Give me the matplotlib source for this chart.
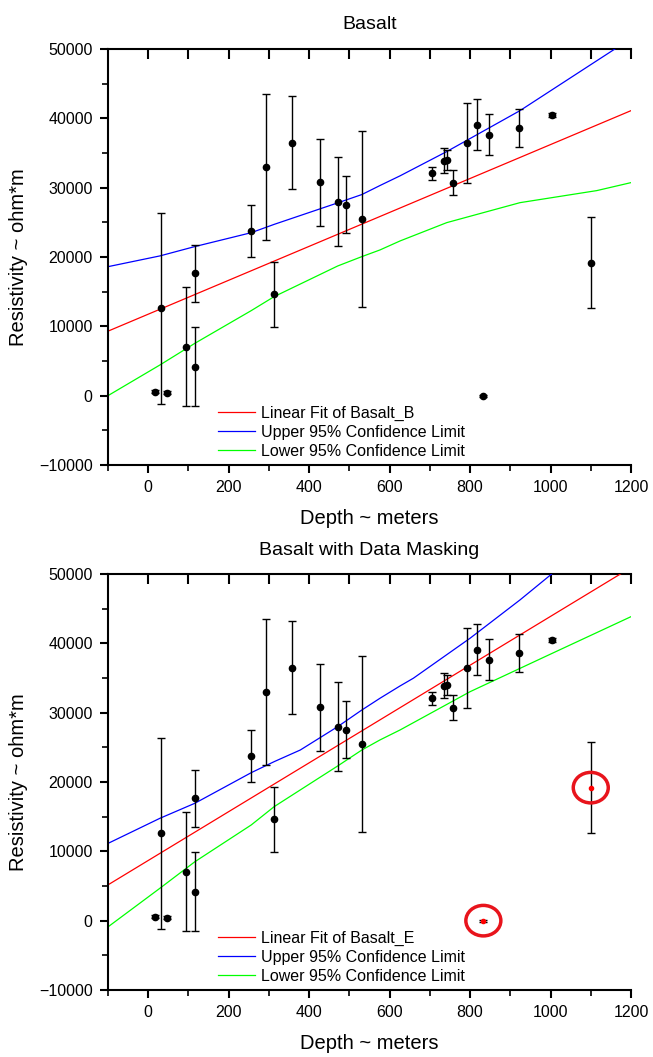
import numpy as np
import matplotlib.pyplot as plt
from matplotlib.patches import Ellipse
from matplotlib.ticker import MultipleLocator

plt.rcParams['font.family'] = ['Liberation Sans', 'DejaVu Sans']

# measured resistivity with error bars
depth = [17, 31, 46, 93, 115, 117, 256, 293, 313, 357, 428, 471, 491, 531,
         706, 736, 743, 758, 793, 816, 833, 847, 922, 1004, 1100]
resistivity = [570, 12600, 430, 7060, 17650, 4180, 23750, 32980, 14620, 36490,
               30780, 27980, 27550, 25440, 32070, 33890, 33990, 30720, 36490,
               39080, 0, 37640, 38570, 40480, 19180]
res_err = [250, 13800, 250, 8560, 4100, 5650, 3700, 10550, 4700, 6700, 6250,
           6400, 4070, 12670, 900, 1800, 1400, 1800, 5770, 3650, 150, 2980,
           2700, 250, 6550]
masked_depths = [833, 1100]

# fit and confidence limits, plot 1 (Basalt_B)
fit_b_x = [-100, 1200]
fit_b_y = [9300, 41100]
upper_b_x = [-100, 29, 116, 256, 313, 471, 531, 576, 626, 742, 924, 1115, 1200]
upper_b_y = [18600, 20150, 21500, 23500, 24700, 27800, 29000, 30300, 31700,
             35200, 41100, 48300, 51500]
lower_b_x = [-100, 29, 116, 256, 313, 471, 531, 576, 626, 742, 924, 1115, 1200]
lower_b_y = [0, 4420, 7550, 12260, 14280, 18700, 20050, 21010, 22310, 24950,
             27830, 29570, 30720]

# fit and confidence limits, plot 2 (Basalt_E, masked)
fit_e_x = [-100, 1200]
fit_e_y = [5160, 50920]
upper_e_x = [-100, 29, 116, 256, 313, 378, 471, 531, 576, 626, 659, 800, 924, 1003, 1100]
upper_e_y = [11140, 14760, 16930, 21340, 22930, 24610, 27980, 30380, 32070,
             33850, 34960, 40730, 46250, 50000, 54000]
lower_e_x = [-100, 29, 116, 256, 313, 471, 531, 576, 626, 800, 990, 1200]
lower_e_y = [-900, 4670, 8500, 13800, 16440, 22310, 24610, 26060, 27500,
             33020, 38170, 43840]


def style_axes(ax, title):
    ax.set_xlim(-100, 1200)
    ax.set_ylim(-10000, 50000)
    ax.set_title(title, fontsize=14, pad=14)
    ax.set_xlabel("Depth ~ meters", fontsize=14.5, labelpad=10)
    ax.set_ylabel("Resistivity ~ ohm*m", fontsize=14.5, labelpad=8)
    ax.spines['right'].set_visible(False)
    ax.spines['top'].set_visible(False)
    for s in ['left', 'bottom']:
        ax.spines[s].set_linewidth(1.5)
    ax.xaxis.set_major_locator(MultipleLocator(200))
    ax.xaxis.set_minor_locator(MultipleLocator(100))
    ax.yaxis.set_major_locator(MultipleLocator(10000))
    ax.yaxis.set_minor_locator(MultipleLocator(5000))
    ax.tick_params(which='major', direction='out', length=6, width=1.5,
                   labelsize=11.5, pad=5)
    ax.tick_params(which='minor', direction='out', length=4, width=1.2)
    top = ax.secondary_xaxis('top')
    top.set_xticks(np.arange(0, 1300, 100))
    top.tick_params(direction='in', length=7, width=1.5, labeltop=False)
    top.spines['top'].set_linewidth(1.5)


def draw(ax, fx, fy, ux, uy, lx, ly, name, mask):
    ax.plot(fx, fy, color='#ff0000', lw=0.9, label=f"Linear Fit of {name}")
    ax.plot(ux, uy, color='#0000ff', lw=0.9, label="Upper 95% Confidence Limit")
    ax.plot(lx, ly, color='#00ff00', lw=0.9, label="Lower 95% Confidence Limit")
    ax.errorbar(depth, resistivity, yerr=res_err, fmt='none', ecolor='black',
                elinewidth=1, capsize=3, capthick=1, zorder=3)
    d = np.array(depth)
    r = np.array(resistivity)
    keep = ~np.isin(d, mask)
    ax.plot(d[keep], r[keep], 'o', color='black', ms=4.5, zorder=4)
    if mask:
        m = np.isin(d, mask)
        ax.plot(d[m], r[m], 'o', color='red', ms=3, zorder=4)
        for x, y in zip(d[m], r[m]):
            ax.add_patch(Ellipse((x, y), 87, 4400, fill=False,
                                 edgecolor='#e8141c', lw=2.5, zorder=5))
    ax.legend(loc='lower left', bbox_to_anchor=(0.21, 0.015), frameon=False,
              fontsize=11.5, handlelength=2.35, handletextpad=0.35,
              labelspacing=0.25, borderpad=0, borderaxespad=0)


fig = plt.figure(figsize=(6.53, 10.57), dpi=100)
ax1 = fig.add_axes([0.1654, 0.5601, 0.8009, 0.3936])
ax2 = fig.add_axes([0.1654, 0.0634, 0.8009, 0.3936])

draw(ax1, fit_b_x, fit_b_y, upper_b_x, upper_b_y, lower_b_x, lower_b_y, "Basalt_B", [])
style_axes(ax1, "Basalt")
draw(ax2, fit_e_x, fit_e_y, upper_e_x, upper_e_y, lower_e_x, lower_e_y, "Basalt_E", masked_depths)
style_axes(ax2, "Basalt with Data Masking")

fig.savefig("out.png", dpi=100)
